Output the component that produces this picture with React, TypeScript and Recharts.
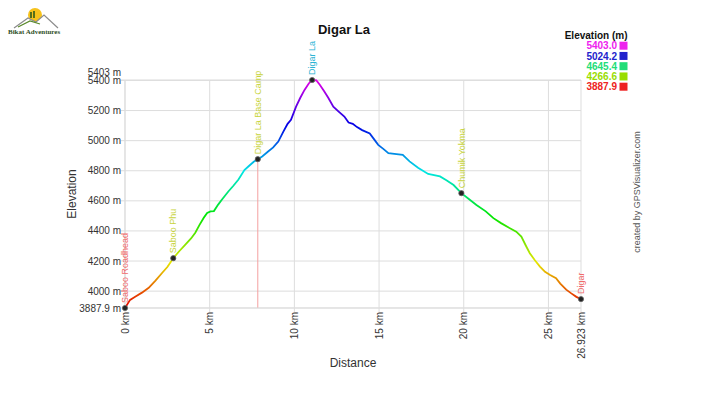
import React from 'react';
import { ComposedChart, Line, XAxis, YAxis, CartesianGrid, ReferenceDot, ReferenceLine } from 'recharts';

const FONT = '"Liberation Sans", Arial, sans-serif';

const title = 'Digar La';
const distKm = [
  0, 0.3, 0.6, 1.0, 1.4, 1.8, 2.2, 2.5, 2.85, 3.2, 3.55, 3.9, 4.15, 4.4, 4.65, 4.85, 5.05, 5.25, 5.5, 5.75,
  6.1, 6.4, 6.7, 7.05, 7.3, 7.6, 7.84, 8.1, 8.45, 8.75, 9.05, 9.35, 9.6, 9.8, 10.1, 10.35, 10.6, 10.85, 11.05,
  11.3, 11.5, 11.75, 12.0, 12.3, 12.6, 12.95, 13.2, 13.45, 13.7, 14.0, 14.45, 14.7, 14.95, 15.25, 15.55, 15.9,
  16.4, 16.8, 17.3, 17.9, 18.6, 19.0, 19.4, 19.86, 20.3, 20.75, 21.3, 21.75, 22.2, 22.7, 23.1, 23.4, 23.7, 23.9,
  24.2, 24.5, 24.8, 25.1, 25.45, 25.7, 26.05, 26.35, 26.65, 26.923,
];
const elevM = [
  3887.9, 3942, 3962, 3990, 4022, 4070, 4122, 4160, 4219, 4265, 4308, 4350, 4388, 4440, 4488, 4520, 4530, 4532, 4575, 4612,
  4662, 4700, 4742, 4805, 4830, 4860, 4877, 4895, 4928, 4955, 4994, 5060, 5112, 5138, 5226, 5285, 5337, 5380, 5403,
  5400, 5372, 5330, 5285, 5226, 5195, 5160, 5120, 5112, 5090, 5070, 5048, 5010, 4972, 4945, 4917, 4912,
  4906, 4862, 4820, 4779, 4762, 4735, 4705, 4651, 4612, 4573, 4530, 4485, 4452, 4419, 4395, 4362, 4295, 4252,
  4205, 4163, 4128, 4107, 4086, 4050, 4010, 3985, 3962, 3947,
];
const xTicks = [0, 5, 10, 15, 20, 25, 26.923];
const yTicks = [3887.9, 4000, 4200, 4400, 4600, 4800, 5000, 5200, 5400, 5403];
const minElev = 3887.9;
const maxElev = 5403;

const waypointNames = ['Saboo Roadhead', 'Saboo Phu', 'Digar La Base Camp', 'Digar La', 'Chumik Yokma', 'Digar'];
const waypointDist = [0, 2.85, 7.84, 11.05, 19.86, 26.923];
const waypointElev = [3887.9, 4219, 4877, 5403, 4651, 3947];
const waypointColors = ['#f06a6a', '#c8d43c', '#c8d43c', '#2cb4d4', '#c8d43c', '#f06a6a'];

const markerDist = 7.84;
const markerElev = 4877;

const legendTitle = 'Elevation (m)';
const legendValues = ['5403.0', '5024.2', '4645.4', '4266.6', '3887.9'];
const legendColors = ['#ee22ee', '#2222cc', '#22dd77', '#99dd00', '#ee2222'];

const data = distKm.map((d, i) => ({ d, e: elevM[i] }));

const gradStops = [0, 0.1, 0.2, 0.3, 0.4, 0.5, 0.6, 0.7, 0.8, 0.9, 1];

const YTick = (props: any) => {
  const { x, y, payload } = props;
  const v = payload.value;
  const label = v === 3887.9 ? '3887.9 m' : `${v} m`;
  const off = v === 5403 ? -8 : 0;
  return (
    <text x={x} y={y + off} dy="0.35em" textAnchor="end" fontSize={10} fill="#333" fontFamily={FONT}>
      {label}
    </text>
  );
};

const XTick = (props: any) => {
  const { x, y, payload } = props;
  const v = payload.value;
  const label = `${v} km`;
  return (
    <text
      x={x}
      y={y}
      dy="0.35em"
      textAnchor="end"
      fontSize={10}
      fill="#333"
      fontFamily={FONT}
      transform={`rotate(-90 ${x} ${y})`}
    >
      {label}
    </text>
  );
};

const makeWaypointShape = (name: string, color: string) => (props: any) => {
  const { cx, cy } = props;
  const ly = cy - 5;
  return (
    <g>
      <circle cx={cx} cy={cy} r={2.6} fill="#222" stroke="#666" strokeWidth={0.8} />
      <text
        x={cx}
        y={ly}
        dy="0.35em"
        textAnchor="start"
        fontSize={9}
        fill={color}
        fontFamily={FONT}
        transform={`rotate(-90 ${cx} ${ly})`}
      >
        {name}
      </text>
    </g>
  );
};

export default function App() {
  return (
    <div style={{ position: 'absolute', left: 0, top: 0, width: 709, height: 399, background: '#fff' }}>
      <ComposedChart
        width={709}
        height={399}
        data={data}
        margin={{ top: 80, right: 128, bottom: 0, left: 0 }}
      >
        <defs>
          <linearGradient id="elevGrad" x1="0" y1="0" x2="0" y2="1">
            {gradStops.map((o) => (
              <stop key={o} offset={o} stopColor={`hsl(${300 * (1 - o)}, 100%, 45%)`} />
            ))}
          </linearGradient>
        </defs>
        <CartesianGrid stroke="#dddddd" strokeWidth={1} />
        <XAxis
          dataKey="d"
          type="number"
          domain={[0, 26.923]}
          ticks={xTicks}
          interval={0}
          height={91}
          tick={<XTick />}
          tickSize={4}
          tickMargin={0}
          tickLine={{ stroke: '#dddddd' }}
          axisLine={{ stroke: '#dddddd' }}
        />
        <YAxis
          dataKey="e"
          type="number"
          domain={[minElev, maxElev]}
          ticks={yTicks}
          interval={0}
          width={125}
          tick={<YTick />}
          tickSize={4}
          tickMargin={0}
          tickLine={{ stroke: '#dddddd' }}
          axisLine={{ stroke: '#dddddd' }}
        />
        <ReferenceLine
          segment={[
            { x: markerDist, y: minElev },
            { x: markerDist, y: markerElev },
          ]}
          stroke="#f4a0a0"
          strokeWidth={1}
          ifOverflow="visible"
        />
        <Line
          type="linear"
          dataKey="e"
          stroke="url(#elevGrad)"
          strokeWidth={1.8}
          dot={false}
          activeDot={false}
          isAnimationActive={false}
        />
        {waypointNames.map((n, i) => (
          <ReferenceDot
            key={n}
            x={waypointDist[i]}
            y={waypointElev[i]}
            r={2.6}
            ifOverflow="visible"
            shape={makeWaypointShape(n, waypointColors[i])}
          />
        ))}
      </ComposedChart>
      <svg
        width={709}
        height={399}
        style={{ position: 'absolute', left: 0, top: 0, pointerEvents: 'none' }}
      >
        {/* logo */}
        <circle cx={35} cy={15} r={7} fill="#f6c21c" />
        <path d="M14 28 L28 18 L36 22 L44 15 L58 28" fill="#ffffff" stroke="#8c8c8c" strokeWidth={1.2} />
        <path d="M18 27 L30 21 L40 24" fill="none" stroke="#5a8a2a" strokeWidth={1.2} />
        <path d="M31 18 L31 12 M34 18 L34 11" stroke="#2f5a1a" strokeWidth={1.6} />
        <text x={8} y={34} fontSize={7} fontWeight="bold" fill="#2f4f1f" fontFamily='"Liberation Serif", serif'>
          Bikat Adventures
        </text>
        {/* title */}
        <text x={344} y={34} textAnchor="middle" fontSize={13} fontWeight="bold" fill="#111" fontFamily={FONT}>
          {title}
        </text>
        {/* legend */}
        <text x={627.5} y={39.3} textAnchor="end" fontSize={10} fontWeight="bold" fill="#111" fontFamily={FONT}>
          {legendTitle}
        </text>
        {legendValues.map((v, i) => (
          <g key={v}>
            <text
              x={617}
              y={49.3 + i * 10.25}
              textAnchor="end"
              fontSize={10}
              fontWeight="bold"
              fill={legendColors[i]}
              fontFamily={FONT}
            >
              {v}
            </text>
            <rect x={619.5} y={41.7 + i * 10.25} width={8} height={8} fill={legendColors[i]} />
          </g>
        ))}
        {/* axis titles */}
        <text x={353} y={367} textAnchor="middle" fontSize={12} fill="#333" fontFamily={FONT}>
          Distance
        </text>
        <text
          x={72}
          y={194}
          dy="0.35em"
          textAnchor="middle"
          fontSize={12}
          fill="#333"
          fontFamily={FONT}
          transform="rotate(-90 72 194)"
        >
          Elevation
        </text>
        {/* credit */}
        <text
          x={637}
          y={192}
          dy="0.35em"
          textAnchor="middle"
          fontSize={9}
          fill="#555"
          fontFamily={FONT}
          transform="rotate(-90 637 192)"
        >
          created by GPSVisualizer.com
        </text>
      </svg>
    </div>
  );
}
